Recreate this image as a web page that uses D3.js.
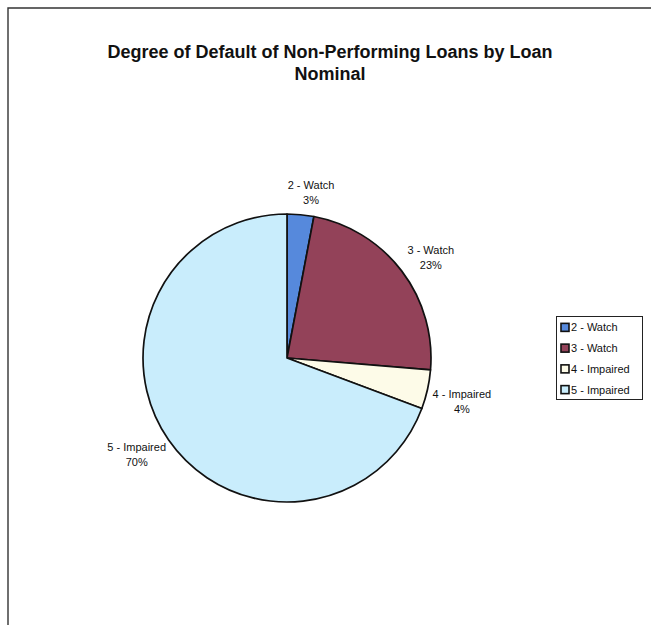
<!DOCTYPE html>
<html>
<head>
<meta charset="utf-8">
<script src="https://cdn.jsdelivr.net/npm/d3@7"></script>
<style>
  html, body { margin: 0; padding: 0; background: #fff; }
  svg { display: block; }
  text { font-family: Arial, "Liberation Sans", sans-serif; fill: #111; }
</style>
</head>
<body>
<svg id="chart" width="651" height="625"></svg>
<script>
const categories = ["2 - Watch", "3 - Watch", "4 - Impaired", "5 - Impaired"];
const values = [3.0, 23.4, 4.4, 69.5];
const percentLabels = ["3%", "23%", "4%", "70%"];
const colors = ["#5689dc", "#934259", "#fdfbe8", "#c9edfc"];
const titleLines = ["Degree of Default of Non-Performing Loans by Loan", "Nominal"];

const svg = d3.select("#chart");

// frame (left + top)
svg.append("path")
  .attr("d", "M8,625 L8,8 L651,8")
  .attr("fill", "none").attr("stroke", "#333").attr("stroke-width", 1.4);

// title
svg.append("text")
  .attr("text-anchor", "middle")
  .attr("font-weight", "bold").attr("font-size", 18)
  .selectAll("tspan").data(titleLines).join("tspan")
  .attr("x", 330).attr("y", (d, i) => 58 + i * 22)
  .text(d => d);

const cx = 287, cy = 358, r = 144;
const g = svg.append("g").attr("transform", `translate(${cx},${cy})`);

const data = categories.map((c, i) => ({ cat: c, value: values[i], pct: percentLabels[i], color: colors[i] }));
const pie = d3.pie().value(d => d.value).sort(null);
const arc = d3.arc().innerRadius(0).outerRadius(r);
const arcs = pie(data);

g.selectAll("path.slice").data(arcs).join("path")
  .attr("class", "slice")
  .attr("d", arc)
  .attr("fill", d => d.data.color)
  .attr("stroke", "#111").attr("stroke-width", 1.7)
  .attr("stroke-linejoin", "round");

// labels (outside end)
const lineH = 15;
g.selectAll("g.lbl").data(arcs).join("g").attr("class", "lbl")
  .each(function(d) {
    const t = d3.select(this).append("text")
      .attr("text-anchor", "middle").attr("font-size", 11);
    const t1 = t.append("tspan").text(d.data.cat);
    t.append("tspan").text(d.data.pct);
    const hw = t1.node().getComputedTextLength() / 2;
    const mid = (d.startAngle + d.endAngle) / 2;
    const a = mid + 0.05 * Math.sqrt(Math.abs(Math.cos(mid)));
    const s = Math.sin(a), c = -Math.cos(a);
    const R = r + 22 + Math.abs(s) * hw * 0.5;
    const mx = R * s, my = R * c;
    t.selectAll("tspan")
      .attr("x", mx)
      .attr("y", (e, i) => my - 3.5 + i * lineH);
  });

// legend
const lx = 556, ly = 316, lw = 86, lh = 83;
const leg = svg.append("g");
leg.append("rect").attr("x", lx + 0.5).attr("y", ly + 0.5).attr("width", lw).attr("height", lh)
  .attr("fill", "#fff").attr("stroke", "#222").attr("stroke-width", 1);
const rowY = d3.scaleBand().domain(categories).range([ly + 1, ly + lh + 1]);
const items = leg.selectAll("g.item").data(data).join("g").attr("class", "item")
  .attr("transform", d => `translate(${lx + 5},${rowY(d.cat) + rowY.bandwidth() / 2})`);
items.append("rect").attr("x", 0).attr("y", -4).attr("width", 8).attr("height", 8)
  .attr("fill", d => d.color).attr("stroke", "#111").attr("stroke-width", 1.6);
items.append("text").attr("x", 10).attr("y", 4).attr("font-size", 11).text(d => d.cat);
</script>
</body>
</html>
